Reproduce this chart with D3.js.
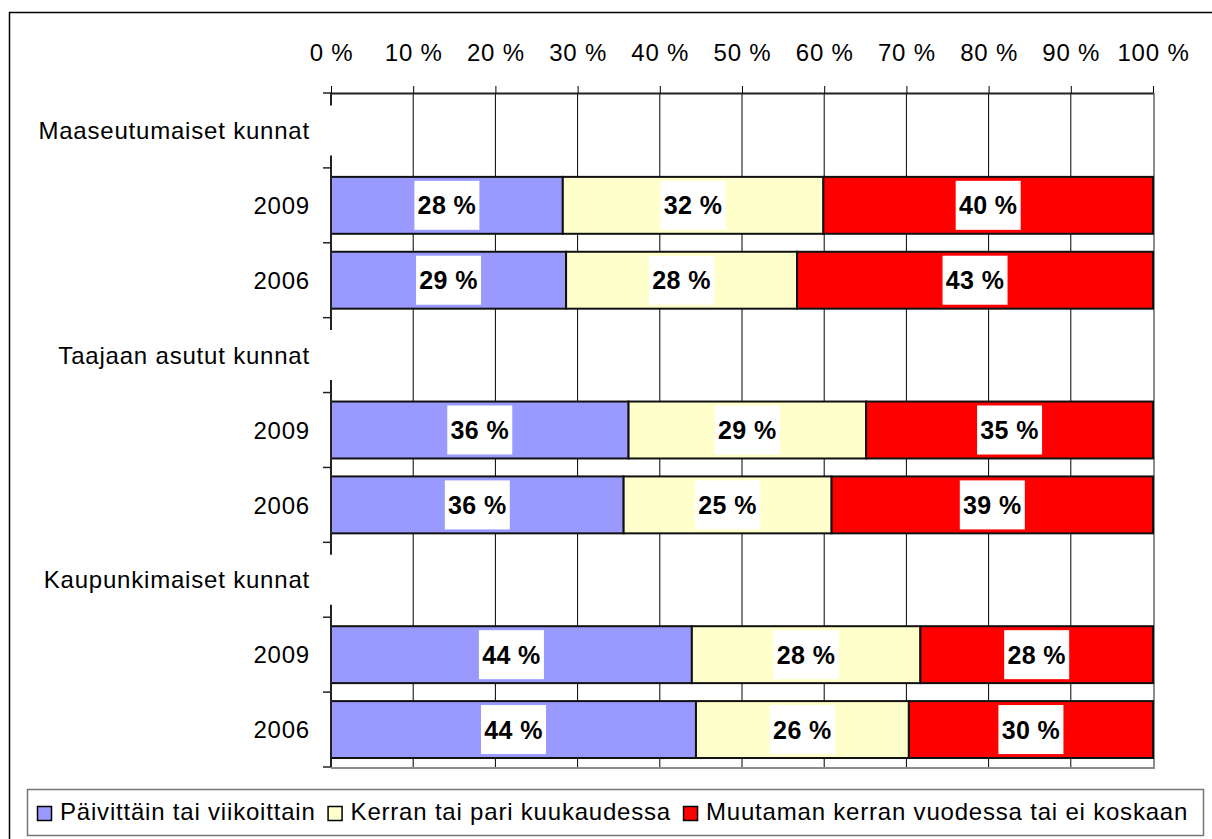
<!DOCTYPE html>
<html>
<head>
<meta charset="utf-8">
<script src="https://cdn.jsdelivr.net/npm/d3@7"></script>
<style>
  body { margin: 0; background: #fff; }
  text { font-family: "Liberation Sans", Arial, sans-serif; }
</style>
</head>
<body>
<div id="chart"></div>
<script>
// rows of the chart, group headers have no bar
var rows = ["Maaseutumaiset kunnat", "M2009", "M2006",
            "Taajaan asutut kunnat", "T2009", "T2006",
            "Kaupunkimaiset kunnat", "K2009", "K2006"];
var rowLabels = ["Maaseutumaiset kunnat", "2009", "2006",
                 "Taajaan asutut kunnat", "2009", "2006",
                 "Kaupunkimaiset kunnat", "2009", "2006"];
var series = ["Päivittäin tai viikoittain", "Kerran tai pari kuukaudessa", "Muutaman kerran vuodessa tai ei koskaan"];
var colors = ["#9999FF", "#FFFFCC", "#FF0000"];

// percent values per bar row (null = header row)
var daily   = [null, 28.2, 28.6, null, 36.2, 35.6, null, 43.9, 44.4];
var monthly = [null, 31.7, 28.1, null, 28.9, 25.3, null, 27.8, 25.9];
var yearly  = [null, 40.1, 43.3, null, 34.9, 39.1, null, 28.3, 29.7];
var xTicks = [0, 10, 20, 30, 40, 50, 60, 70, 80, 90, 100];

var fontSize = 24, spacing = 0.8;

var svgWidth = 1212, svgHeight = 839;
var svg = d3.select("#chart").append("svg")
  .attr("width", svgWidth)
  .attr("height", svgHeight);

// outer chart border
svg.append("rect")
  .attr("x", 9.5).attr("y", 12.5)
  .attr("width", 1230).attr("height", 850)
  .attr("fill", "#fff").attr("stroke", "#000").attr("stroke-width", 1.5);

var plot = {left: 331, right: 1153, top: 93, bottom: 767};

var x = d3.scaleLinear().domain([0, 100]).range([plot.left, plot.right]);
var y = d3.scaleBand().domain(rows).range([plot.top, plot.bottom])
  .paddingInner(0.24).paddingOuter(0.12);

// gridlines
svg.append("g").selectAll("line")
  .data(xTicks.slice(1, -1))
  .enter().append("line")
  .attr("x1", d => x(d)).attr("x2", d => x(d))
  .attr("y1", plot.top).attr("y2", plot.bottom)
  .attr("stroke", "#000").attr("stroke-width", 1);

// plot area border right/bottom (gray)
svg.append("path")
  .attr("d", `M${plot.right + 1},${plot.top} V${plot.bottom + 1} H${plot.left}`)
  .attr("fill", "none").attr("stroke", "#8c8c8c").attr("stroke-width", 2);

// top axis
var topAxis = d3.axisTop(x)
  .tickValues(xTicks)
  .tickFormat(d => d + " %")
  .tickSize(7)
  .tickSizeOuter(0)
  .tickPadding(25);
var gx = svg.append("g")
  .attr("transform", `translate(0, ${plot.top})`)
  .call(topAxis);
gx.select(".domain").attr("stroke", "#222").attr("stroke-width", 2);
gx.selectAll(".tick line").attr("stroke", "#000").attr("stroke-width", 1);
gx.selectAll(".tick text")
  .attr("font-size", fontSize).attr("letter-spacing", spacing)
  .attr("fill", "#000").style("font-family", "'Liberation Sans', Arial, sans-serif");

// stacked data
var stacked = rows.map(function(r, i) {
  if (daily[i] === null) return null;
  var vals = [daily[i], monthly[i], yearly[i]];
  var start = 0;
  return vals.map(function(v, j) {
    var seg = {row: r, s: j, x0: start, x1: start + v, v: v};
    start += v;
    return seg;
  });
}).filter(d => d !== null);
var segs = [].concat.apply([], stacked);

svg.append("g").selectAll("rect")
  .data(segs)
  .enter().append("rect")
  .attr("x", d => x(d.x0))
  .attr("y", d => y(d.row))
  .attr("width", d => x(d.x1) - x(d.x0))
  .attr("height", y.bandwidth())
  .attr("fill", d => colors[d.s])
  .attr("stroke", "#111").attr("stroke-width", 2);

// data labels with white boxes
var lab = svg.append("g").selectAll("g")
  .data(segs)
  .enter().append("g")
  .attr("transform", d => `translate(${x((d.x0 + d.x1) / 2)}, ${y(d.row) + y.bandwidth() / 2})`);
lab.append("rect")
  .attr("x", -32.5).attr("y", -24.5)
  .attr("width", 65).attr("height", 49)
  .attr("fill", "#fff");
lab.append("text")
  .attr("text-anchor", "middle")
  .attr("dy", "0.36em")
  .attr("font-size", 25).attr("font-weight", "bold").attr("letter-spacing", 0.4)
  .text(d => Math.round(d.v) + " %");

// left axis ticks at band boundaries
var step = y.step();
var bounds = rows.map(r => y(r) - step * y.paddingInner() / 2);
bounds[0] = plot.top;
bounds.push(plot.bottom);

// left axis line drawn in pieces, header labels have a white box over it
var gapRows = rows.map((r, i) => daily[i] === null ? y(r) + y.bandwidth() / 2 : null);
var segsY = [plot.top];
gapRows.forEach(function(c) {
  if (c !== null) { segsY.push(c - 25); segsY.push(c + 25); }
});
segsY.push(plot.bottom);
var axisPath = "";
for (var k = 0; k < segsY.length; k += 2) {
  axisPath += `M${plot.left},${segsY[k]} V${segsY[k + 1]} `;
}
svg.append("path").attr("d", axisPath)
  .attr("stroke", "#222").attr("stroke-width", 2).attr("fill", "none");
svg.append("g").selectAll("line")
  .data(bounds)
  .enter().append("line")
  .attr("x1", plot.left - 8).attr("x2", plot.left)
  .attr("y1", d => d).attr("y2", d => d)
  .attr("stroke", "#222").attr("stroke-width", 1.5);

svg.append("g").selectAll("text")
  .data(rows)
  .enter().append("text")
  .attr("x", 310)
  .attr("y", d => y(d) + y.bandwidth() / 2)
  .attr("dy", "0.36em")
  .attr("text-anchor", "end")
  .attr("font-size", fontSize).attr("letter-spacing", spacing)
  .text((d, i) => rowLabels[i]);

// legend
var legend = svg.append("g");
legend.append("rect")
  .attr("x", 27.5).attr("y", 789.5)
  .attr("width", 1176).attr("height", 46)
  .attr("fill", "#fff").attr("stroke", "#777").attr("stroke-width", 1.5);
var lx = 37;
series.forEach(function(s, i) {
  legend.append("rect")
    .attr("x", lx + 0.5).attr("y", 806.5)
    .attr("width", 14).attr("height", 14)
    .attr("fill", colors[i]).attr("stroke", "#000").attr("stroke-width", 1.5);
  var t = legend.append("text")
    .attr("x", lx + 23).attr("y", 820)
    .attr("font-size", fontSize).attr("letter-spacing", spacing)
    .text(s);
  lx = lx + 23 + t.node().getComputedTextLength() + 12;
});
</script>
</body>
</html>
